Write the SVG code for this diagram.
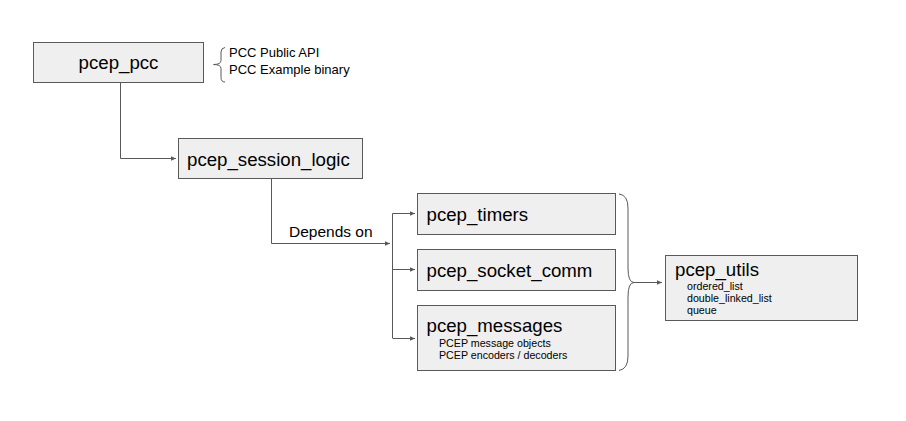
<svg xmlns="http://www.w3.org/2000/svg" width="906" height="421" viewBox="0 0 906 421">
<defs>
<style>
.box{fill:#efefef;stroke:#595959;stroke-width:1}
.t{font-family:"Liberation Sans",Arial,sans-serif;fill:#000}
.big{font-size:18.67px}
.mid{font-size:13px}
.lbl{font-size:15.5px}
.sm{font-size:10.67px}
.ln{fill:none;stroke:#595959;stroke-width:1}
.br{fill:none;stroke:#595959;stroke-width:1}
</style>
<marker id="ah" viewBox="0 0 8 8" refX="7" refY="4" markerWidth="6" markerHeight="6" orient="auto" markerUnits="userSpaceOnUse">
<path d="M0,1 L7,4 L0,7 z" fill="#595959"/>
</marker>
</defs>
<rect width="906" height="421" fill="#fff"/>
<g id="connectors">
<path class="ln" d="M120.5,83 V158.5 H176" marker-end="url(#ah)"/>
<path class="ln" d="M271.5,179 V243.5 H390" marker-end="url(#ah)"/>
<path class="ln" d="M392.5,213.5 V338"/>
<path class="ln" d="M392.5,213.5 H415" marker-end="url(#ah)"/>
<path class="ln" d="M392.5,269.5 H415" marker-end="url(#ah)"/>
<path class="ln" d="M392.5,338.5 H415" marker-end="url(#ah)"/>
<path class="ln" d="M634,282.5 H662" marker-end="url(#ah)"/>
</g>
<g id="brace-pcc">
<path class="br" d="M225,47.5 Q221,48 221,52 V60.5 Q221,64.5 213.5,64.5 Q221,64.5 221,68.5 V77.5 Q221,82 225,82"/>
</g>
<g id="brace-deps">
<path class="br" d="M619,194 Q628,195 628,208 V268 Q628,282.5 634,282.5 Q628,282.5 628,297 V356 Q628,369 619,370.5"/>
</g>
<g id="pcep_pcc">
<rect class="box" x="33.5" y="42.5" width="170" height="40"/>
<text class="t big" x="118.5" y="69" text-anchor="middle">pcep_pcc</text>
</g>
<g id="pcc-notes">
<text class="t mid" x="229" y="57">PCC Public API</text>
<text class="t mid" x="229" y="74">PCC Example binary</text>
</g>
<g id="pcep_session_logic">
<rect class="box" x="178.5" y="138.5" width="184" height="40"/>
<text class="t big" x="187" y="166">pcep_session_logic</text>
</g>
<text class="t lbl" x="289" y="237">Depends on</text>
<g id="pcep_timers">
<rect class="box" x="417.5" y="193.5" width="198" height="41"/>
<text class="t big" x="426.5" y="221">pcep_timers</text>
</g>
<g id="pcep_socket_comm">
<rect class="box" x="417.5" y="249.5" width="198" height="41"/>
<text class="t big" x="426.5" y="277">pcep_socket_comm</text>
</g>
<g id="pcep_messages">
<rect class="box" x="417.5" y="305.5" width="198" height="65"/>
<text class="t big" x="426.5" y="332">pcep_messages</text>
<text class="t sm" x="439" y="347">PCEP message objects</text>
<text class="t sm" x="439" y="359">PCEP encoders / decoders</text>
</g>
<g id="pcep_utils">
<rect class="box" x="665.5" y="255.5" width="192" height="65"/>
<text class="t big" x="675" y="276">pcep_utils</text>
<text class="t sm" x="687" y="290">ordered_list</text>
<text class="t sm" x="687" y="302">double_linked_list</text>
<text class="t sm" x="687" y="314">queue</text>
</g>
</svg>
